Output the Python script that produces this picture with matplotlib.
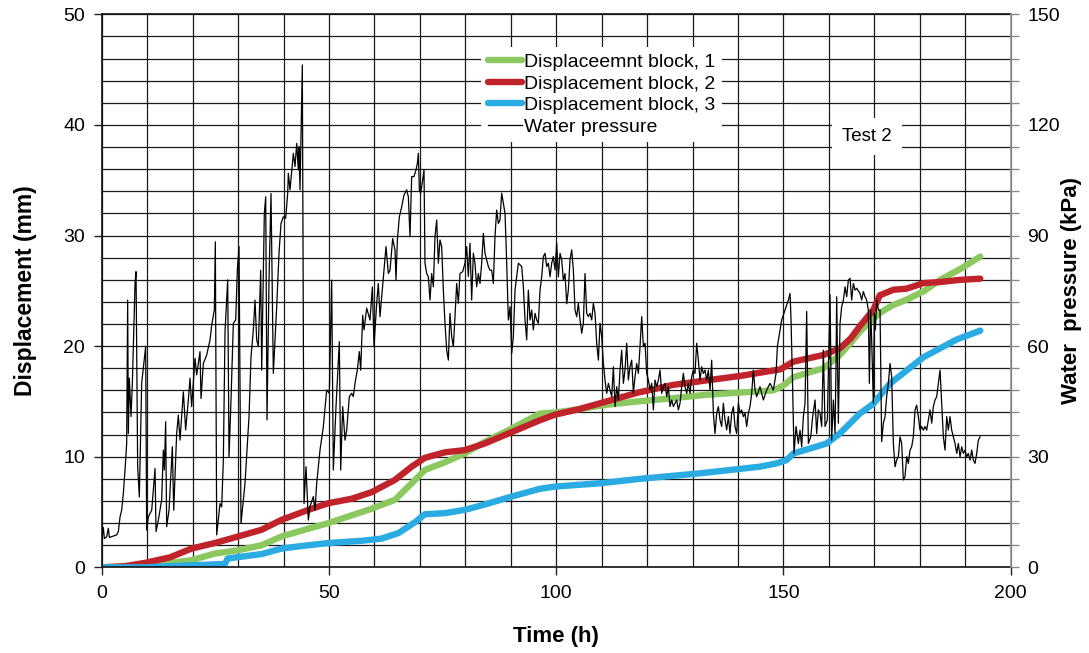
import matplotlib
matplotlib.use("Agg")
import matplotlib.pyplot as plt
from matplotlib.ticker import MultipleLocator

plt.rcParams['font.family'] = ['Liberation Sans', 'DejaVu Sans']

# Displacement of block 1 (mm) against time (h)
t_block1 = [0, 5, 9.5, 15, 19.8, 24.9, 30.1, 35.2, 39.6, 45.5, 49.9, 55.0, 59.4, 64.5, 68.2,
            71.1, 75.5, 79.9, 84.3, 89.5, 96.4, 99.7, 105, 111.1, 118, 125.8, 133, 140.4,
            147.8, 150.2, 152.2, 155.5, 158.8, 162.4, 164.8, 166.8, 169.0, 171.2, 174.0,
            177.1, 181.0, 184.5, 189.0, 193.3]
d_block1 = [0, 0.05, 0.25, 0.4, 0.65, 1.25, 1.55, 2.0, 2.8, 3.5, 4.0, 4.7, 5.3, 6.1, 7.6,
            8.8, 9.5, 10.3, 11.35, 12.4, 13.9, 14.0, 14.3, 14.7, 15.0, 15.3, 15.6, 15.8,
            16.0, 16.5, 17.2, 17.6, 18.0, 19.2, 20.3, 21.3, 22.2, 23.0, 23.7, 24.2, 25.0,
            26.0, 27.0, 28.1]

# Displacement of block 2 (mm)
t_block2 = [0, 5, 9.5, 15, 19.8, 24.9, 30.1, 35.2, 39.6, 45.5, 49.9, 55.0, 59.4, 64.5, 68.2,
            71.1, 75.5, 79.9, 84.3, 89.5, 96.4, 99.7, 105, 111.1, 118, 125.8, 133, 140.4,
            149.3, 152.2, 155.5, 158.8, 162.4, 164.8, 166.8, 169.8, 171.2, 174.2, 177.1,
            180.8, 184.5, 189.0, 193.3]
d_block2 = [0, 0.1, 0.4, 0.9, 1.7, 2.2, 2.8, 3.4, 4.3, 5.2, 5.8, 6.2, 6.8, 7.9, 9.1,
            9.9, 10.4, 10.6, 11.2, 12.1, 13.3, 13.8, 14.3, 15.0, 15.8, 16.5, 16.9, 17.3,
            17.9, 18.6, 18.9, 19.2, 19.8, 20.7, 21.8, 23.3, 24.6, 25.1, 25.2, 25.7, 25.8,
            26.0, 26.1]

# Displacement of block 3 (mm)
t_block3 = [0, 9.5, 20.5, 27.1, 27.7, 35.2, 39.6, 45.5, 49.9, 57.2, 61.6, 65.3, 69.0, 71.1,
            75.5, 79.9, 83.6, 90.2, 96.4, 99.7, 109.6, 118.4, 131.6, 140.4, 144.8, 148.5,
            150.7, 152.2, 155.5, 159.5, 162.4, 166.8, 169.8, 173.4, 180.8, 188.1, 193.3]
d_block3 = [0, 0, 0.2, 0.3, 0.8, 1.2, 1.7, 2.0, 2.2, 2.4, 2.6, 3.1, 4.1, 4.8,
            4.9, 5.2, 5.6, 6.4, 7.1, 7.3, 7.6, 8.0, 8.5, 8.9, 9.1, 9.4,
            9.7, 10.3, 10.7, 11.2, 12.1, 13.9, 14.8, 16.6, 19.0, 20.6, 21.4]

# Water pressure (kPa) against time (h)
t_water = [
    0.0, 0.36, 0.58, 1.09, 1.46, 1.68, 2.56, 3.29, 3.66, 4.03, 4.39, 4.76, 5.13, 5.49, 5.71,
    5.86, 6.08, 6.45, 6.74, 7.33, 7.55, 7.91, 8.28, 8.79, 9.67, 9.89, 10.26, 11.0, 11.73,
    11.95, 12.46, 13.19, 13.56, 13.78, 14.07, 14.29, 14.81, 15.54, 15.84, 16.49, 16.86,
    17.23, 17.96, 18.47, 19.06, 19.43, 19.79, 20.53, 20.89, 21.63, 21.85, 22.36, 23.1,
    23.83, 24.2, 24.78, 25.0, 25.3, 26.03, 26.4, 26.76, 27.13, 27.72, 28.01, 28.45, 28.96,
    29.48, 29.84, 30.21, 30.65, 31.53, 32.41, 32.85, 33.36, 33.73, 34.1, 34.46, 34.98,
    35.2, 35.78, 36.08, 36.37, 36.81, 37.25, 37.76, 38.5, 39.01, 39.45, 39.96, 40.48,
    40.92, 41.06, 41.43, 42.16, 42.53, 42.9, 43.26, 43.41, 43.63, 44.14, 44.51, 44.95,
    45.46, 45.83, 46.56, 46.93, 47.3, 48.03, 48.76, 49.5, 50.08, 50.6, 50.96, 51.55,
    52.28, 52.58, 53.02, 53.53, 53.9, 54.48, 55.0, 55.36, 55.73, 56.24, 56.68, 56.98,
    57.42, 57.71, 58.3, 59.03, 59.55, 59.91, 60.5, 60.86, 61.23, 61.6, 61.97, 62.55,
    63.07, 63.43, 64.02, 64.53, 64.75, 65.05, 65.49, 66.0, 66.51, 67.1, 67.47, 67.83,
    68.2, 68.71, 69.15, 69.45, 69.67, 69.89, 70.18, 70.62, 70.91, 71.13, 71.5, 71.87,
    72.23, 72.6, 72.97, 73.33, 73.7, 74.07, 74.43, 74.8, 75.17, 75.53, 75.9, 76.27,
    76.63, 77.0, 77.37, 77.73, 78.1, 78.47, 78.83, 79.42, 79.93, 80.3, 80.67, 81.03,
    81.4, 81.77, 82.13, 82.5, 82.87, 83.23, 83.6, 83.97, 84.33, 84.7, 85.07, 85.43,
    85.8, 86.17, 86.53, 86.9, 87.27, 87.63, 88.0, 88.74, 89.11, 89.47, 89.84, 90.21,
    90.57, 90.94, 91.67, 92.41, 92.77, 93.14, 93.51, 93.87, 94.24, 94.61, 94.97, 95.34,
    95.71, 96.07, 96.44, 96.81, 97.17, 97.54, 97.91, 98.27, 98.64, 99.01, 99.37, 99.74,
    100.11, 100.47, 100.84, 101.21, 101.57, 101.94, 102.31, 102.67, 103.04, 103.41,
    103.77, 104.14, 104.51, 104.87, 105.24, 105.61, 105.97, 106.34, 106.71, 107.07,
    107.44, 107.81, 108.18, 108.54, 108.91, 109.28, 109.64, 110.01, 110.38, 110.74,
    111.11, 111.48, 111.84, 112.21, 112.58, 112.94, 113.31, 113.68, 114.04, 114.41,
    114.78, 115.14, 115.51, 115.88, 116.24, 116.61, 116.98, 117.34, 117.71, 118.08,
    118.44, 118.81, 119.18, 119.54, 119.91, 120.28, 120.64, 121.01, 121.38, 121.74,
    122.11, 122.48, 122.84, 123.21, 123.58, 123.94, 124.31, 124.68, 125.04, 125.41,
    125.78, 126.14, 126.51, 126.88, 127.24, 127.61, 127.98, 128.34, 128.71, 129.08,
    129.44, 129.81, 130.18, 130.54, 130.91, 131.28, 131.64, 132.01, 132.38, 132.74,
    133.11, 133.48, 133.84, 134.21, 134.58, 134.94, 135.31, 135.68, 136.04, 136.41,
    136.78, 137.14, 137.51, 137.88, 138.24, 138.61, 138.98, 139.34, 139.71, 140.08,
    140.44, 140.81, 141.18, 141.54, 141.91, 142.28, 142.64, 143.01, 143.38, 143.74,
    144.11, 144.84, 145.58, 146.31, 147.04, 147.78, 148.37, 148.66, 149.24, 149.61,
    150.35, 151.08, 151.45, 151.67, 152.03, 152.33, 152.77, 153.28, 153.65, 154.01,
    154.38, 154.75, 155.11, 155.48, 156.0, 156.43, 156.95, 157.31, 157.68, 158.05,
    158.41, 158.78, 159.15, 159.66, 160.25, 160.61, 160.98, 161.35, 161.57, 161.71,
    162.08, 162.45, 162.81, 163.18, 163.55, 163.91, 164.28, 164.65, 165.01, 165.38,
    165.75, 166.11, 166.85, 167.21, 167.58, 167.95, 168.31, 168.68, 168.9, 169.19,
    169.41, 169.63, 169.78, 170.0, 170.22, 170.51, 170.88, 171.25, 171.61, 171.98,
    172.35, 172.71, 173.08, 173.45, 173.81, 174.18, 174.55, 174.91, 175.28, 175.65,
    176.01, 176.38, 176.75, 177.11, 177.48, 177.85, 178.21, 178.58, 178.95, 179.31,
    179.68, 180.05, 180.41, 180.78, 181.15, 181.51, 181.88, 182.25, 182.62, 182.98,
    183.35, 183.72, 184.08, 184.45, 184.82, 185.18, 185.55, 185.92, 186.28, 186.65,
    187.02, 187.38, 187.75, 188.12, 188.48, 188.85, 189.22, 189.58, 189.95, 190.32,
    190.68, 191.05, 191.42, 191.78, 192.15, 192.52, 192.88, 193.25]
p_water = [
    7.4, 10.8, 7.8, 8.3, 10.6, 8.1, 8.5, 8.8, 9.7, 13.7, 15.5, 20.1, 26.4, 33.6, 72.5,
    36.3, 51.3, 40.9, 49.9, 77.0, 80.2, 27.3, 19.1, 49.9, 59.9, 10.1, 13.7, 15.5, 26.8,
    9.7, 12.8, 18.3, 31.8, 26.4, 39.5, 11.0, 15.5, 32.7, 15.5, 36.3, 41.3,
    34.5, 47.6, 37.3, 45.4, 51.3, 43.6, 56.7, 52.2, 58.5, 45.8, 55.3, 57.6,
    61.7, 65.7, 69.8, 88.3, 8.8, 17.3, 16.4, 29.1, 63.9, 78.0, 30.0, 45.4, 66.2,
    67.1, 80.6, 87.0, 11.9, 22.8, 40.9, 57.1, 64.4, 72.5, 61.7, 59.9, 80.6,
    53.5, 96.0, 100.5, 40.0, 78.0, 101.4, 52.6, 70.7, 85.2, 93.3, 95.1, 94.7,
    101.4, 106.9, 102.4, 112.3, 108.7, 115.0, 107.8, 114.1, 102.4, 136.3, 17.3, 27.3,
    12.8, 16.5, 19.2, 15.5, 22.8, 31.8, 38.1, 48.1, 47.2, 77.9, 26.4, 43.6,
    61.2, 26.4, 43.6, 34.5, 37.2, 46.3, 47.2, 46.3, 49.9, 53.5, 58.5, 53.5,
    68.4, 64.4, 70.3, 67.1, 76.1, 59.9, 71.6, 77.0, 68.0, 73.4, 78.8, 87.0,
    79.7, 80.6, 89.2, 86.1, 77.9, 88.8, 95.1, 97.8, 101.0, 102.4, 100.5, 89.7,
    106.0, 106.0, 107.8, 109.6, 112.3, 102.4, 101.5, 105.1, 107.8, 82.5, 79.7, 78.8,
    72.5, 79.7, 76.1, 89.7, 94.2, 82.5, 88.8, 87.0, 75.2, 66.2, 58.9, 56.2,
    68.9, 62.6, 59.9, 68.0, 77.0, 71.6, 79.7, 80.2, 82.5, 87.0, 78.9, 87.9,
    72.5, 85.2, 82.5, 76.1, 79.7, 77.0, 82.5, 90.6, 85.2, 83.4, 81.6, 80.6,
    80.6, 77.0, 89.7, 96.9, 93.3, 94.2, 101.5, 96.0, 82.5, 67.1, 70.7, 58.1,
    62.6, 75.2, 82.5, 81.6, 76.1, 67.1, 61.7, 75.2, 67.1, 69.8, 64.4, 68.9,
    67.1, 66.2, 75.2, 78.8, 84.3, 85.2, 81.6, 82.5, 78.8, 82.5, 84.3, 80.7,
    87.9, 78.8, 85.2, 83.4, 77.9, 79.7, 71.5, 75.2, 83.4, 86.1,
    80.7, 69.8, 68.0, 71.6, 67.1, 63.5, 66.2, 79.7, 68.9, 68.0,
    68.9, 67.1, 71.6, 68.9, 60.8, 56.2, 66.2, 62.6, 55.3, 50.8,
    47.2, 49.9, 48.1, 46.3, 54.4, 43.6, 49.0, 45.4, 53.5, 58.9,
    49.9, 53.5, 60.8, 50.8, 54.4, 56.2, 47.2, 51.7, 55.3, 52.6,
    59.9, 68.0, 59.9, 60.8, 52.6, 50.8, 48.1, 49.9, 42.7, 50.8,
    49.0, 50.8, 53.5, 47.2, 49.0, 49.9, 46.3, 49.0, 43.6, 45.4,
    43.6, 44.5, 45.4, 42.7, 44.5, 49.0, 52.6, 49.0, 47.2, 49.9,
    47.2, 51.7, 53.5, 52.6, 60.8, 56.2, 50.8, 54.4, 52.6, 53.5,
    50.8, 53.5, 48.1, 56.2, 41.8, 36.3, 41.8, 43.6, 40.0, 38.2,
    44.5, 40.0, 37.3, 40.9, 36.3, 41.8, 43.6, 38.2, 36.3, 44.5,
    41.8, 42.7, 40.9, 41.8, 38.2, 41.8, 43.6, 47.2, 53.5, 48.1,
    46.3, 49.0, 45.4, 48.1, 49.9, 48.1, 52.6, 59.9, 64.4, 67.1,
    69.8, 72.5, 74.3, 67.1, 48.1, 30.9, 38.2, 33.6, 37.2, 32.7,
    40.9, 44.5, 69.4, 33.6, 35.4, 40.9, 45.4, 36.3, 42.7, 41.8,
    38.2, 58.9, 38.2, 40.0, 73.9, 34.5, 45.4, 36.3, 55.3, 73.4,
    39.1, 66.2, 70.7, 72.5, 76.1, 73.4, 77.9, 78.4, 72.5, 77.0,
    75.2, 75.7, 74.3, 72.5, 74.8, 73.4, 72.5, 69.8, 49.9, 69.8,
    61.7, 50.8, 44.5, 68.9, 64.4, 72.5, 69.8, 69.8, 34.1, 39.1,
    40.9, 46.3, 49.9, 55.3, 51.7, 33.6, 27.3, 29.1, 30.0, 35.4,
    33.6, 23.7, 24.6, 30.0, 28.2, 31.8, 32.7, 35.4, 42.7, 44.0,
    40.9, 37.2, 38.2, 37.2, 38.2, 37.2, 40.0, 42.7, 39.1, 43.6,
    45.4, 46.3, 49.9, 53.5, 44.5, 35.4, 31.8, 40.9, 37.2, 40.9,
    37.2, 35.4, 33.6, 30.9, 33.6, 30.0, 32.7, 30.9, 31.8, 30.0,
    30.9, 29.1, 31.8, 29.1, 28.2, 30.9, 34.5, 35.4]

labels = ["Displaceemnt block, 1", "Displacement block, 2",
          "Displacement block, 3", "Water pressure"]
colors = ["#8CC860", "#C1232B", "#2AACE2", "#000000"]

fig = plt.figure(figsize=(10.89, 6.53), dpi=100)
ax = fig.add_axes([0.0934, 0.1312, 0.8347, 0.8468])
ax2 = ax.twinx()

# Grid: every 10 h and every 2 mm
ax.set_xlim(0, 200)
ax.set_ylim(0, 50)
ax.xaxis.set_major_locator(MultipleLocator(50))
ax.xaxis.set_minor_locator(MultipleLocator(10))
ax.yaxis.set_major_locator(MultipleLocator(10))
ax.yaxis.set_minor_locator(MultipleLocator(2))
ax.grid(True, which='both', color='#1a1a1a', linewidth=0.9)
ax.set_axisbelow(True)

lw = 4.6
l1, = ax.plot(t_block1, d_block1, color=colors[0], lw=lw, solid_capstyle='round',
              solid_joinstyle='round')
l2, = ax.plot(t_block2, d_block2, color=colors[1], lw=lw, solid_capstyle='round',
              solid_joinstyle='round')
l3, = ax.plot(t_block3, d_block3, color=colors[2], lw=lw, solid_capstyle='round',
              solid_joinstyle='round')

ax2.set_ylim(0, 150)
ax2.yaxis.set_major_locator(MultipleLocator(30))
ax2.yaxis.set_minor_locator(MultipleLocator(6))
l4, = ax2.plot(t_water, p_water, color=colors[3], lw=0.9)

# Ticks and spines
ax.tick_params(axis='both', which='major', direction='out', length=6, width=1,
               labelsize=14, color='#222222')
ax.tick_params(axis='x', which='major', pad=7)
ax.tick_params(axis='y', which='major', pad=6)
ax.tick_params(axis='x', which='minor', length=0)
ax.tick_params(axis='y', which='minor', length=0)
ax2.tick_params(axis='y', which='both', direction='out', length=6, width=1,
                labelsize=14, color='#888888', pad=6)
for s in ['left', 'bottom', 'top']:
    ax.spines[s].set_color('#111111')
    ax.spines[s].set_linewidth(1.2)
ax2.spines['right'].set_color('#999999')
ax2.spines['right'].set_linewidth(1.2)
for s in ['left', 'bottom', 'top']:
    ax2.spines[s].set_visible(False)

ax.set_xlabel("Time (h)", fontsize=16, fontweight='bold', labelpad=17)
ax.set_ylabel("Displacement (mm)", fontsize=16.5, fontweight='bold', labelpad=19)
ax2.set_ylabel("Water  pressure (kPa)", fontsize=16, fontweight='bold', labelpad=1)

leg = ax2.legend([l1, l2, l3, l4], labels, loc='upper left',
                 bbox_to_anchor=(0.407, 0.959), fontsize=14, frameon=True,
                 fancybox=False, edgecolor='none', facecolor='white', framealpha=1,
                 handlelength=1.75, handletextpad=0.1, labelspacing=0.2,
                 borderpad=0.35)
for h in leg.get_lines()[:3]:
    h.set_linewidth(4.6)

ax2.text(0.842, 0.779, "Test 2", transform=ax2.transAxes, fontsize=13.5,
         ha='center', va='center',
         bbox=dict(facecolor='white', edgecolor='none', pad=7))

fig.savefig("out.png", dpi=100)
